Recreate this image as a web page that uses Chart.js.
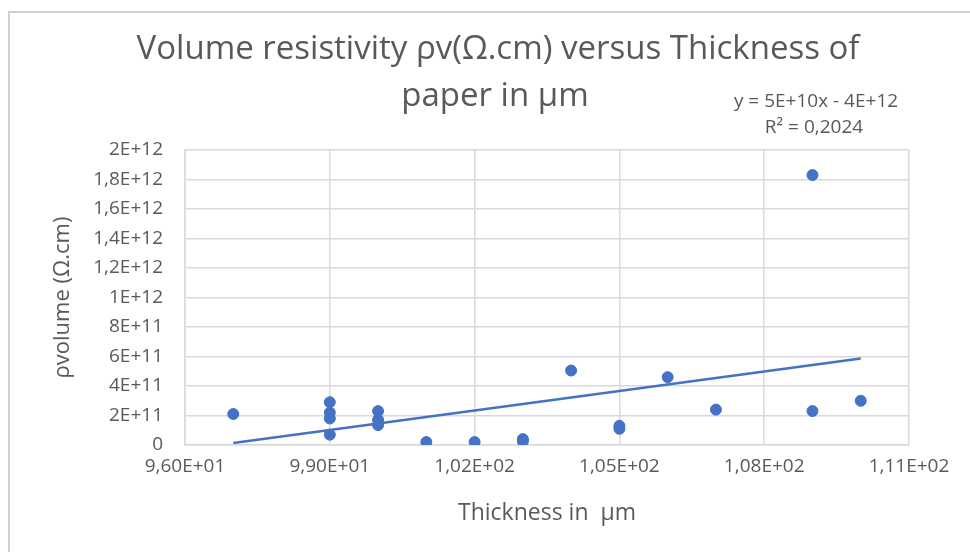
<!DOCTYPE html>
<html>
<head>
<meta charset="utf-8">
<title>Volume resistivity versus thickness</title>
<script src="https://cdn.jsdelivr.net/npm/chart.js@4.4.1/dist/chart.umd.min.js"></script>
<style>
    html, body { margin: 0; padding: 0; background: #fff; }
    #wrap { width: 970px; height: 552px; position: relative; }
</style>
</head>
<body>
<div id="wrap"><canvas id="chart" width="970" height="552"></canvas></div>
<script>
// Measured thickness (µm) and volume resistivity (Ω.cm)
const thickness = [97, 99, 99, 99, 99, 100, 100, 100, 101, 102, 103, 103, 104, 105, 105, 106, 107, 109, 109, 110];
const rhoV = [2.1e11, 2.9e11, 2.2e11, 1.8e11, 0.7e11, 2.3e11, 1.7e11, 1.35e11, 0.2e11, 0.2e11,
              0.4e11, 0.25e11, 5.05e11, 1.3e11, 1.1e11, 4.6e11, 2.4e11, 1.83e12, 2.3e11, 3.0e11];

const xTicks = [96, 99, 102, 105, 108, 111];
const titleLines = ['Volume resistivity ρv(Ω.cm) versus Thickness of', 'paper in µm'];
const trendLabel = ['y = 5E+10x - 4E+12', 'R² = 0,2024'];

const TEXT = '#595959';
const GRID = '#D9D9D9';
const BLUE = '#4472C4';
const FONT = "'Open Sans', Lato, sans-serif";

/**
 * Least squares fit, drawn between first and last x
 */
function linearTrend(xs, ys) {
    const n = xs.length;
    const mx = xs.reduce((a, b) => a + b, 0) / n;
    const my = ys.reduce((a, b) => a + b, 0) / n;
    let sxy = 0, sxx = 0;
    xs.forEach((x, i) => {
        sxy += (x - mx) * (ys[i] - my);
        sxx += (x - mx) * (x - mx);
    });
    const slope = sxy / sxx;
    const icpt = my - slope * mx;
    const x0 = Math.min(...xs), x1 = Math.max(...xs);
    return [{ x: x0, y: slope * x0 + icpt }, { x: x1, y: slope * x1 + icpt }];
}

/**
 * Excel style scientific label with comma decimal
 */
function sciLabel(v, decimals) {
    if (v === 0) return '0';
    const e = Math.floor(Math.log10(Math.abs(v)) + 1e-9);
    let m = v / Math.pow(10, e);
    let s;
    if (decimals === null) {
        m = Math.round(m * 10) / 10;
        s = String(m);
    } else {
        s = m.toFixed(decimals);
    }
    return s.replace('.', ',') + 'E+' + String(e).padStart(2, '0');
}

// Title, trendline equation and outer frame
const decorPlugin = {
    id: 'decor',
    beforeDraw(chart) {
        const ctx = chart.ctx;
        ctx.save();
        ctx.strokeStyle = '#D0D0D0';
        ctx.lineWidth = 2;
        ctx.beginPath();
        ctx.moveTo(9, 552);
        ctx.lineTo(9, 12);
        ctx.lineTo(970, 12);
        ctx.stroke();
        ctx.restore();
    },
    afterDraw(chart) {
        const ctx = chart.ctx;
        ctx.save();
        ctx.fillStyle = TEXT;
        ctx.textAlign = 'center';
        ctx.textBaseline = 'middle';
        ctx.font = '33px ' + FONT;
        ctx.fillText(titleLines[0], 498, 50);
        ctx.fillText(titleLines[1], 495, 97);
        ctx.font = '19px ' + FONT;
        ctx.fillText(trendLabel[0], 816, 102);
        ctx.fillText(trendLabel[1], 814, 128);
        ctx.restore();
    }
};

const ctx = document.getElementById('chart').getContext('2d');
new Chart(ctx, {
    type: 'scatter',
    data: {
        datasets: [{
            label: 'ρv',
            data: thickness.map((x, i) => ({ x: x, y: rhoV[i] })),
            backgroundColor: BLUE,
            borderColor: BLUE,
            pointRadius: 5.5,
            pointHoverRadius: 5.5
        }, {
            label: 'Linear',
            type: 'line',
            data: linearTrend(thickness, rhoV),
            borderColor: BLUE,
            borderWidth: 2.5,
            pointRadius: 0,
            fill: false
        }]
    },
    options: {
        responsive: false,
        animation: false,
        layout: {
            padding: { top: 150, right: 61, bottom: 25, left: 44 }
        },
        plugins: {
            legend: { display: false },
            title: { display: false },
            tooltip: { enabled: false }
        },
        scales: {
            x: {
                type: 'linear',
                min: 96,
                max: 111,
                afterBuildTicks(scale) {
                    scale.ticks = xTicks.map(v => ({ value: v }));
                },
                afterFit(scale) {
                    scale.height = 82;
                },
                grid: { color: GRID, lineWidth: 1.5, drawTicks: false },
                border: { color: GRID, width: 1.5 },
                ticks: {
                    color: TEXT,
                    font: { family: FONT, size: 19 },
                    padding: 10,
                    maxRotation: 0,
                    callback: v => sciLabel(v, 2)
                },
                title: {
                    display: true,
                    text: 'Thickness in  µm',
                    color: TEXT,
                    font: { family: FONT, size: 23 },
                    padding: { top: 0, bottom: 0 }
                }
            },
            y: {
                min: 0,
                max: 2e12,
                ticks: {
                    stepSize: 2e11,
                    color: TEXT,
                    font: { family: FONT, size: 19 },
                    padding: 22,
                    callback: v => sciLabel(v, null)
                },
                afterFit(scale) {
                    scale.width = 141;
                },
                grid: { color: GRID, lineWidth: 1.5, drawTicks: false },
                border: { color: GRID, width: 1.5 },
                title: {
                    display: true,
                    text: 'ρvolume (Ω.cm)',
                    color: TEXT,
                    font: { family: FONT, size: 22 },
                    padding: { top: 6, bottom: 0 }
                }
            }
        }
    },
    plugins: [decorPlugin]
});
</script>
</body>
</html>
